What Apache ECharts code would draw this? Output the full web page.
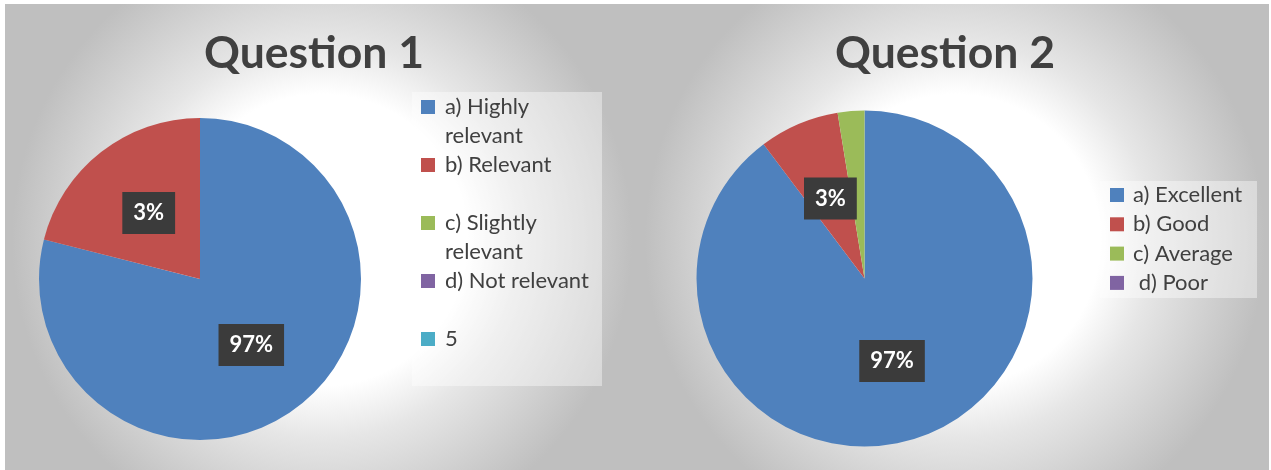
<!DOCTYPE html>
<html>
<head>
<meta charset="utf-8">
<script src="https://cdn.jsdelivr.net/npm/echarts@6/dist/echarts.min.js"></script>
<style>
  html, body { margin: 0; padding: 0; background: #fff; }
  #chart { width: 1271px; height: 470px; }
</style>
</head>
<body>
<div id="chart"></div>
<script>
// Question 1
const q1Names = ['a) Highly relevant', 'b) Relevant', 'c) Slightly relevant', 'd) Not relevant', '5'];
const q1LegendText = ['a) Highly\nrelevant', 'b) Relevant', 'c) Slightly\nrelevant', 'd) Not relevant', '5'];
const q1Values = [15, 4, 0, 0, 0];
const q1Labels = ['97%', '3%', '', '', ''];

// Question 2
const q2Names = ['a) Excellent', 'b) Good', 'c) Average', ' d) Poor'];
const q2Values = [35, 3, 1, 0];
const q2Labels = ['97%', '3%', '', ''];

const colors = ['#4F81BD', '#C0504D', '#9BBB59', '#8064A2', '#4BACC6'];
const font = 'Lato, "Open Sans", sans-serif';

var myChart = echarts.init(document.getElementById('chart'), null, { renderer: 'canvas' });

// radial grey -> white panel background (like the office chart area)
const panelFill = (cx, cy) => ({
  type: 'radial',
  x: cx,
  y: cy,
  r: 310,
  global: true,
  colorStops: [
    { offset: 0, color: '#ffffff' },
    { offset: 0.47, color: '#ffffff' },
    { offset: 0.64, color: '#e6e6e6' },
    { offset: 1, color: '#bfbfbf' }
  ]
});

const buildData = (names, values, labels) =>
  names.map((n, i) => ({
    name: n,
    value: values[i],
    itemStyle: { color: colors[i] },
    label: { show: labels[i] !== '' }
  }));

const pieLabel = labels => ({
  position: 'inside',
  formatter: p => labels[p.dataIndex],
  color: '#fff',
  fontFamily: font,
  fontWeight: 'bold',
  fontSize: 22,
  lineHeight: 24,
  backgroundColor: '#3b3b3b',
  padding: [9, 11]
});

const legendText = { fontFamily: font, fontSize: 22, color: '#404040', lineHeight: 29 };

const getOptions = () => {
  return {
    backgroundColor: '#ffffff',
    animation: false,
    color: colors,
    graphic: [
      { type: 'rect', z: -10, silent: true, shape: { x: 5, y: 4, width: 635, height: 466 }, style: { fill: panelFill(322, 240) } },
      { type: 'rect', z: -10, silent: true, shape: { x: 640, y: 4, width: 629, height: 466 }, style: { fill: panelFill(955, 240) } },
      // legend panels
      { type: 'rect', z: -5, silent: true, shape: { x: 412, y: 92, width: 190, height: 294 }, style: { fill: 'rgba(255,255,255,0.4)' } },
      { type: 'rect', z: -5, silent: true, shape: { x: 1100, y: 181, width: 157, height: 117 }, style: { fill: 'rgba(255,255,255,0.4)' } }
    ],
    title: [
      {
        text: 'Question 1',
        left: 309,
        top: 26,
        textAlign: 'center',
        textStyle: { fontFamily: font, fontWeight: 'bold', fontSize: 44.5, color: '#404040' }
      },
      {
        text: 'Question 2',
        left: 940,
        top: 26,
        textAlign: 'center',
        textStyle: { fontFamily: font, fontWeight: 'bold', fontSize: 44.5, color: '#404040' }
      }
    ],
    legend: [
      {
        data: q1Names,
        orient: 'vertical',
        left: 421,
        top: 63.5,
        padding: 0,
        itemGap: -29,
        itemWidth: 14,
        itemHeight: 14,
        icon: 'rect',
        selectedMode: false,
        // blank first line keeps the marker level with the first text line
        formatter: name => {
          const t = q1LegendText[q1Names.indexOf(name)];
          return '\n' + t + (t.indexOf('\n') < 0 ? '\n' : '');
        },
        textStyle: Object.assign({ padding: [0, 0, 0, 5] }, legendText)
      },
      {
        data: q2Names,
        orient: 'vertical',
        left: 1110,
        top: 180.5,
        padding: 0,
        itemGap: 0.3,
        itemWidth: 14,
        itemHeight: 14,
        icon: 'rect',
        selectedMode: false,
        textStyle: Object.assign({ padding: [0, 0, 0, 4] }, legendText)
      }
    ],
    series: [
      {
        name: 'Question 1',
        type: 'pie',
        center: [200, 279],
        radius: 161,
        startAngle: 90,
        silent: true,
        label: pieLabel(q1Labels),
        labelLine: { show: false },
        itemStyle: { borderWidth: 0 },
        data: buildData(q1Names, q1Values, q1Labels)
      },
      {
        name: 'Question 2',
        type: 'pie',
        center: [864.5, 278.5],
        radius: 168,
        startAngle: 90,
        silent: true,
        label: pieLabel(q2Labels),
        labelLine: { show: false },
        itemStyle: { borderWidth: 0 },
        data: buildData(q2Names, q2Values, q2Labels)
      }
    ]
  };
};

myChart.setOption(getOptions());
</script>
</body>
</html>
